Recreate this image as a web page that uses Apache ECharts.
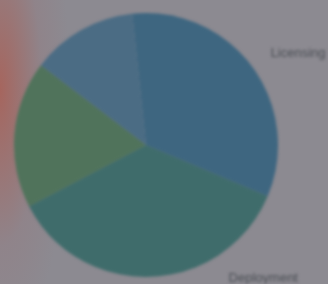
<!DOCTYPE html>
<html>
<head>
<meta charset="utf-8">
<script src="https://cdn.jsdelivr.net/npm/echarts@6/dist/echarts.min.js"></script>
<style>
  html, body { margin: 0; padding: 0; width: 328px; height: 284px; overflow: hidden; }
  body {
    background:
      radial-gradient(ellipse 70px 260px at 0px 90px, rgba(170,95,85,0.85), rgba(150,120,125,0.35) 60%, rgba(140,137,145,0) 100%),
      #8c8a91;
  }
  #main { width: 328px; height: 284px; filter: blur(1.4px); }
</style>
</head>
<body>
<div id="main"></div>
<script>
  // slices, clockwise from just left of 12 o'clock
  var sliceNames = ['Licensing', 'Deployment', 'Training', 'Support'];
  var sliceValues = [33, 36, 18, 13];
  var sliceColors = ['#3e6680', '#3f6c6b', '#50735b', '#4b6c84'];
  var showLabel = [true, true, false, false];
  // label line lengths per slice (line itself hidden)
  var lineLen = [22, 2, 10, 10];
  var lineLen2 = [0, 76, 10, 10];

  var chart = echarts.init(document.getElementById('main'));

  var data = [];
  for (var i = 0; i < sliceNames.length; i++) {
    data.push({
      name: sliceNames[i],
      value: sliceValues[i],
      itemStyle: { color: sliceColors[i] },
      label: { show: showLabel[i] },
      labelLine: { show: false, length: lineLen[i], length2: lineLen2[i] }
    });
  }

  chart.setOption({
    animation: false,
    backgroundColor: 'transparent',
    series: [{
      type: 'pie',
      center: [146, 145],
      radius: 132,
      startAngle: 96,
      clockwise: true,
      avoidLabelOverlap: false,
      itemStyle: { borderWidth: 0 },
      label: {
        position: 'outside',
        color: '#4a4e54',
        fontSize: 13,
        fontFamily: 'Liberation Sans, Arial, sans-serif',
        distanceToLabelLine: 1
      },
      emphasis: { disabled: true },
      data: data
    }]
  });
</script>
</body>
</html>
